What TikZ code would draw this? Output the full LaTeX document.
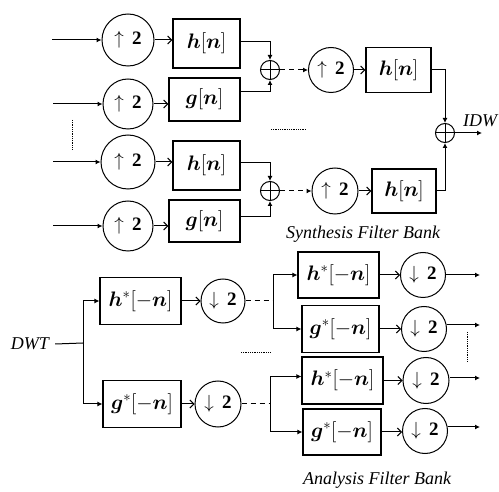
\RequirePackage{fix-cm}
\documentclass[tikz,border=0pt]{standalone}
\usepackage{amsmath,bm}
\usepackage{fontspec}
\setmainfont{Liberation Serif}
\usetikzlibrary{arrows.meta,calc}
\tikzset{
  box/.style={draw, line width=1.2pt, inner sep=0pt, font=\fontsize{21}{24}\selectfont},
  rate/.style={draw, circle, line width=1pt, inner sep=0pt, font=\fontsize{19}{22}\selectfont},
  sumnode/.style={draw, circle, line width=1pt, minimum size=19pt, inner sep=0pt,
    path picture={\draw[line width=1pt] (path picture bounding box.north) -- (path picture bounding box.south)
      (path picture bounding box.west) -- (path picture bounding box.east);}},
  wire/.style={line width=1pt},
  fa/.style={wire, -{Latex[length=5pt,width=5pt]}},
  oa/.style={wire, -{Straight Barb[length=4pt,width=8pt]}},
  da/.style={fa, dash pattern=on 5pt off 4pt},
  dl/.style={wire, dash pattern=on 5pt off 4pt},
  dotline/.style={line width=0.9pt, dash pattern=on 0.9pt off 0.9pt},
  lab/.style={font=\fontsize{18}{21}\selectfont\itshape, inner sep=0pt}
}
\begin{document}
\begin{tikzpicture}[x=1pt,y=-1pt]
\path[use as bounding box] (0,0) rectangle (499,492);

% ---------- Synthesis filter bank ----------
\node[rate, minimum size=52pt] (u1) at (128,40) {$\uparrow\,\mathbf{2}$};
\node[rate, minimum size=50pt] (u2) at (128,104) {$\uparrow\,\mathbf{2}$};
\node[rate, minimum size=54pt] (u3) at (128,162) {$\uparrow\,\mathbf{2}$};
\node[rate, minimum size=50pt] (u4) at (128,226) {$\uparrow\,\mathbf{2}$};

\node[box, minimum width=67pt, minimum height=49pt] (hb1) at (206.5,43.5) {$\bm{h}[\bm{n}]$};
\node[box, minimum width=71pt, minimum height=43pt] (gb1) at (204.5,99.5) {$\bm{g}[\bm{n}]$};
\node[box, minimum width=67pt, minimum height=49pt] (hb2) at (206.5,165.5) {$\bm{h}[\bm{n}]$};
\node[box, minimum width=71pt, minimum height=42pt] (gb2) at (204.5,221) {$\bm{g}[\bm{n}]$};

\coordinate (i1) at (52,40);
\coordinate (i2) at (53,104);
\coordinate (i3) at (53,162);
\coordinate (i4) at (53,226);
\draw[fa] (i1) -- (u1.west);
\draw[fa] (i2) -- (u2.west);
\draw[fa] (i3) -- (u3.west);
\draw[fa] (i4) -- (u4.west);

\draw[oa] (u1.east) -- (u1.east -| hb1.west);
\draw[oa] (u2.east) -- (u2.east -| gb1.west);
\draw[oa] (u3.east) -- (u3.east -| hb2.west);
\draw[oa] (u4.east) -- (u4.east -| gb2.west);

\node[sumnode] (s1) at (270,70) {};
\node[sumnode] (s2) at (270,191) {};

\draw[fa] ([yshift=1.5pt]hb1.east) -| (s1.north);
\draw[fa] ([yshift=7.5pt]gb1.east) -| (s1.south);
\draw[fa] ([yshift=2.5pt]hb2.east) -| (s2.north);
\draw[fa] ([yshift=4pt]gb2.east) -| (s2.south);

\node[rate, minimum size=45pt] (u5) at (331,70) {$\uparrow\,\mathbf{2}$};
\node[rate, minimum size=46pt] (u6) at (335,191) {$\uparrow\,\mathbf{2}$};
\node[box, minimum width=65pt, minimum height=45pt] (hb3) at (398.5,70) {$\bm{h}[\bm{n}]$};
\node[box, minimum width=64pt, minimum height=44pt] (hb4) at (404,191) {$\bm{h}[\bm{n}]$};

\draw[da] (s1.east) -- (u5.west);
\draw[da] (s2.east) -- (u6.west);
\draw[oa] (u5.east) -- (hb3.west);
\draw[oa] (u6.east) -- (hb4.west);

\node[sumnode] (s3) at (445,133) {};
\draw[fa] (hb3.east) -| (s3.north);
\draw[fa] (hb4.east) -| (s3.south);
\coordinate (o0) at (482,133);
\draw[fa] (s3.east) -- (o0);
\node[lab, anchor=west] (idw) at (463,121) {IDW};

\draw[dotline] (72,120) -- (72,149);
\draw[dotline] (271,129) -- (306,129);

\node[lab] (syn) at (363,234) {Synthesis Filter Bank};

% ---------- Analysis filter bank ----------
\node[lab] (dwt) at (30,344) {DWT};
\coordinate (bA) at (83,343);
\draw[wire] ([xshift=6pt]dwt.east) -- (bA);

\node[box, minimum width=81pt, minimum height=47pt] (ha1) at (140.5,301) {$\bm{h}^{*}[-\bm{n}]$};
\node[box, minimum width=78pt, minimum height=47pt] (ga1) at (142,404) {$\bm{g}^{*}[-\bm{n}]$};
\draw[fa] (bA) |- (ha1.west);
\draw[fa] (bA) |- (ga1.west);

\node[rate, minimum size=44pt] (d1) at (223,301) {$\downarrow\,\mathbf{2}$};
\node[rate, minimum size=46pt] (d2) at (218,404) {$\downarrow\,\mathbf{2}$};
\draw[oa] (ha1.east) -- (d1.west);
\draw[oa] (ga1.east) -- (d2.west);

\coordinate (bB) at (273,301);
\coordinate (bC) at (270,404);
\draw[dl] (d1.east) -- (bB);
\draw[dl] (d2.east) -- (bC);

\node[box, minimum width=81pt, minimum height=46pt] (ha2) at (338.5,275) {$\bm{h}^{*}[-\bm{n}]$};
\node[box, minimum width=77pt, minimum height=47pt] (ga2) at (340.5,329) {$\bm{g}^{*}[-\bm{n}]$};
\node[box, minimum width=81pt, minimum height=47pt] (ha3) at (342.5,380.5) {$\bm{h}^{*}[-\bm{n}]$};
\node[box, minimum width=78pt, minimum height=46pt] (ga3) at (342,432) {$\bm{g}^{*}[-\bm{n}]$};

\draw[fa] (bB) |- (ha2.west);
\draw[fa] (bB) |- (ga2.west);
\draw[fa] (bC) |- ([yshift=4pt]ha3.west);
\draw[fa] (bC) |- (ga3.west);

\node[rate, minimum size=45pt] (c1) at (423,275) {$\downarrow\,\mathbf{2}$};
\node[rate, minimum size=45pt] (c2) at (424,329) {$\downarrow\,\mathbf{2}$};
\node[rate, minimum size=46pt] (c3) at (426,380.5) {$\downarrow\,\mathbf{2}$};
\node[rate, minimum size=45pt] (c4) at (425,431) {$\downarrow\,\mathbf{2}$};

\draw[oa] (ha2.east) -- (c1.west);
\draw[oa] (ga2.east) -- (c2.west);
\draw[oa] (ha3.east) -- (c3.west);
\draw[oa] (ga3.east) -- (ga3.east -| c4.west);

\coordinate (o1) at (480,275);
\coordinate (o2) at (480,325);
\coordinate (o3) at (480,378);
\coordinate (o4) at (480,427);
\draw[fa] (c1.east) -- (o1);
\draw[fa] ([yshift=4pt]c2.east) -- (o2);
\draw[fa] ([yshift=2.5pt]c3.east) -- (o3);
\draw[fa] ([yshift=4pt]c4.east) -- (o4);

\draw[dotline] (467,332) -- (467,362);
\draw[dotline] (241,352) -- (271,352);

\node[lab] (ana) at (377,480) {Analysis Filter Bank};
\end{tikzpicture}
\end{document}
